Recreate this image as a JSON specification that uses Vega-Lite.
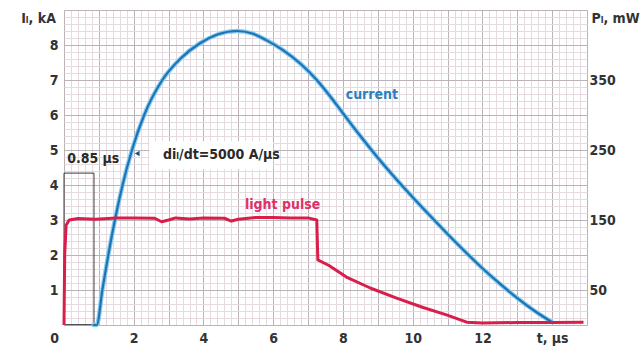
{
  "$schema": "https://vega.github.io/schema/vega-lite/v6.json",
  "width": 523,
  "height": 315,
  "autosize": {"type": "none"},
  "padding": {"left": 64, "top": 10, "right": 55, "bottom": 24},
  "background": "white",
  "config": {
    "view": {"stroke": null},
    "font": "Liberation Sans Narrow, DejaVu Sans Condensed, sans-serif",
    "axis": {"labelFontWeight": "bold", "labelFontSize": 14, "labelColor": "#333333", "titleFontWeight": "bold", "titleFontSize": 14, "titleColor": "#333333", "labelFont": "Liberation Sans Narrow, DejaVu Sans Condensed, sans-serif", "titleFont": "Liberation Sans Narrow, DejaVu Sans Condensed, sans-serif"}
  },
  "datasets": {
    "curves": [
      {"t": 0.85, "v": 0, "s": "current"},
      {"t": 0.94, "v": 0, "s": "current"},
      {"t": 1.1, "v": 1, "s": "current"},
      {"t": 1.27, "v": 2, "s": "current"},
      {"t": 1.46, "v": 3, "s": "current"},
      {"t": 1.68, "v": 4, "s": "current"},
      {"t": 1.95, "v": 5, "s": "current"},
      {"t": 2.3, "v": 6, "s": "current"},
      {"t": 2.82, "v": 7, "s": "current"},
      {"t": 3.35, "v": 7.62, "s": "current"},
      {"t": 3.9, "v": 8.05, "s": "current"},
      {"t": 4.4, "v": 8.3, "s": "current"},
      {"t": 4.96, "v": 8.4, "s": "current"},
      {"t": 5.4, "v": 8.33, "s": "current"},
      {"t": 5.8, "v": 8.14, "s": "current"},
      {"t": 6.27, "v": 7.86, "s": "current"},
      {"t": 6.8, "v": 7.45, "s": "current"},
      {"t": 7.25, "v": 7.0, "s": "current"},
      {"t": 7.62, "v": 6.55, "s": "current"},
      {"t": 8.0, "v": 6.05, "s": "current"},
      {"t": 8.5, "v": 5.4, "s": "current"},
      {"t": 9.0, "v": 4.78, "s": "current"},
      {"t": 9.5, "v": 4.2, "s": "current"},
      {"t": 10.0, "v": 3.65, "s": "current"},
      {"t": 10.5, "v": 3.12, "s": "current"},
      {"t": 11.0, "v": 2.6, "s": "current"},
      {"t": 11.5, "v": 2.1, "s": "current"},
      {"t": 12.0, "v": 1.62, "s": "current"},
      {"t": 12.5, "v": 1.18, "s": "current"},
      {"t": 13.0, "v": 0.77, "s": "current"},
      {"t": 13.5, "v": 0.4, "s": "current"},
      {"t": 14.0, "v": 0.08, "s": "current"},
      {"t": 0, "v": 0, "s": "light"},
      {"t": 0.02, "v": 2.0, "s": "light"},
      {"t": 0.06, "v": 2.85, "s": "light"},
      {"t": 0.15, "v": 3.0, "s": "light"},
      {"t": 0.4, "v": 3.04, "s": "light"},
      {"t": 0.9, "v": 3.02, "s": "light"},
      {"t": 1.5, "v": 3.06, "s": "light"},
      {"t": 2.0, "v": 3.06, "s": "light"},
      {"t": 2.6, "v": 3.05, "s": "light"},
      {"t": 2.8, "v": 2.95, "s": "light"},
      {"t": 3.0, "v": 3.0, "s": "light"},
      {"t": 3.2, "v": 3.06, "s": "light"},
      {"t": 3.6, "v": 3.03, "s": "light"},
      {"t": 4.0, "v": 3.06, "s": "light"},
      {"t": 4.6, "v": 3.05, "s": "light"},
      {"t": 4.8, "v": 2.97, "s": "light"},
      {"t": 5.0, "v": 3.02, "s": "light"},
      {"t": 5.5, "v": 3.07, "s": "light"},
      {"t": 6.0, "v": 3.07, "s": "light"},
      {"t": 6.5, "v": 3.06, "s": "light"},
      {"t": 7.0, "v": 3.06, "s": "light"},
      {"t": 7.25, "v": 3.0, "s": "light"},
      {"t": 7.28, "v": 1.86, "s": "light"},
      {"t": 7.6, "v": 1.7, "s": "light"},
      {"t": 8.1, "v": 1.37, "s": "light"},
      {"t": 8.8, "v": 1.05, "s": "light"},
      {"t": 9.54, "v": 0.77, "s": "light"},
      {"t": 10.3, "v": 0.5, "s": "light"},
      {"t": 10.97, "v": 0.29, "s": "light"},
      {"t": 11.55, "v": 0.08, "s": "light"},
      {"t": 12.0, "v": 0.06, "s": "light"},
      {"t": 13.0, "v": 0.07, "s": "light"},
      {"t": 14.0, "v": 0.07, "s": "light"},
      {"t": 14.9, "v": 0.08, "s": "light"}
    ],
    "rules": [
      {"t": 0, "v": 0, "v2": 4.34},
      {"t": 0.86, "v": 0, "v2": 4.34}
    ],
    "hrule": [
      {"t": 0, "t2": 0.86, "v": 4.34},
      {"t": 0, "t2": 0.86, "v": 0.01}
    ],
    "box": [
      {"t": 2.45, "t2": 6.0, "v": 4.45, "v2": 5.25}
    ],
    "arrow": [
      {"t": 2.1, "v": 4.9}
    ],
    "lblCurrent": [{"t": 8.83, "v": 6.57, "text": "current"}],
    "lblLight": [{"t": 6.27, "v": 3.43, "text": "light pulse"}],
    "lblDark": [
      {"t": 2.84, "v": 4.86, "text": "diₗ/dt=5000 A/µs"},
      {"t": 0.09, "v": 4.74, "text": "0.85 µs"}
    ]
  },
  "resolve": {"scale": {"x": "shared", "y": "shared"}, "axis": {"x": "independent", "y": "independent"}},
  "layer": [
    {
      "data": {"name": "box"},
      "mark": {"type": "rect", "color": "white"},
      "encoding": {
        "x": {"field": "t", "type": "quantitative", "scale": {"domain": [0, 15], "nice": false, "zero": false},
          "axis": {
            "orient": "bottom",
            "values": [0,0.2,0.4,0.6,0.8,1,1.2,1.4,1.6,1.8,2,2.2,2.4,2.6,2.8,3,3.2,3.4,3.6,3.8,4,4.2,4.4,4.6,4.8,5,5.2,5.4,5.6,5.8,6,6.2,6.4,6.6,6.8,7,7.2,7.4,7.6,7.8,8,8.2,8.4,8.6,8.8,9,9.2,9.4,9.6,9.8,10,10.2,10.4,10.6,10.8,11,11.2,11.4,11.6,11.8,12,12.2,12.4,12.6,12.8,13,13.2,13.4,13.6,13.8,14,14.2,14.4,14.6,14.8,15],
            "grid": true,
            "gridColor": {"condition": {"test": "abs(datum.value - round(datum.value)) < 0.01", "value": "#bbb2b8"}, "value": "#e4dae0"},
            "gridWidth": 1,
            "ticks": false,
            "domain": false,
            "labelOverlap": false,
            "labelFlush": false,
            "labelBound": false,
            "labelPadding": 6,
            "labelOffset": {"condition": {"test": "datum.value == 0", "value": -10}, "value": 0},
            "labelExpr": "datum.value == 14 ? 't, µs' : ((datum.value % 2 == 0 && datum.value <= 12) ? format(datum.value, 'd') : '')",
            "title": null
          }
        },
        "x2": {"field": "t2"},
        "y": {"field": "v", "type": "quantitative", "scale": {"domain": [0, 9], "nice": false, "zero": false},
          "axis": {
            "orient": "left",
            "values": [0,0.2,0.4,0.6,0.8,1,1.2,1.4,1.6,1.8,2,2.2,2.4,2.6,2.8,3,3.2,3.4,3.6,3.8,4,4.2,4.4,4.6,4.8,5,5.2,5.4,5.6,5.8,6,6.2,6.4,6.6,6.8,7,7.2,7.4,7.6,7.8,8,8.2,8.4,8.6,8.8,9],
            "grid": true,
            "gridColor": {"condition": {"test": "abs(datum.value - round(datum.value)) < 0.01", "value": "#bbb2b8"}, "value": "#e4dae0"},
            "gridWidth": 1,
            "ticks": false,
            "domain": false,
            "labelOverlap": false,
            "labelFlush": false,
            "labelBound": false,
            "labelPadding": 6,
            "labelExpr": "(datum.value >= 1 && datum.value <= 8 && datum.value % 1 == 0) ? format(datum.value, 'd') : ''",
            "title": "Iₗ, kA",
            "titleAngle": 0,
            "titleAlign": "center",
            "titleBaseline": "middle",
            "titleX": -26,
            "titleY": 8
          }
        },
        "y2": {"field": "v2"}
      }
    },
    {
      "data": {"name": "rules"},
      "mark": {"type": "rule", "color": "#3a3a3a", "strokeWidth": 1},
      "encoding": {
        "x": {"field": "t", "type": "quantitative", "axis": null},
        "y": {"field": "v", "type": "quantitative",
          "axis": {
            "orient": "right",
            "values": [1, 3, 5, 7],
            "labelExpr": "format(datum.value * 50, 'd')",
            "grid": false,
            "ticks": false,
            "domain": false,
            "labelAlign": "left",
            "labelPadding": 2,
            "labelBound": false,
            "labelFlush": false,
            "title": "Pₗ, mW",
            "titleAngle": 0,
            "titleAlign": "center",
            "titleBaseline": "middle",
            "titleX": 28,
            "titleY": 8
          }
        },
        "y2": {"field": "v2"}
      }
    },
    {
      "data": {"name": "hrule"},
      "mark": {"type": "rule", "color": "#3a3a3a", "strokeWidth": 1},
      "encoding": {
        "x": {"field": "t", "type": "quantitative", "axis": null},
        "x2": {"field": "t2"},
        "y": {"field": "v", "type": "quantitative", "axis": null}
      }
    },
    {
      "data": {"name": "curves"},
      "transform": [{"filter": "datum.s == 'current'"}],
      "mark": {"type": "line", "color": "#86cbee", "strokeWidth": 4.5, "strokeJoin": "round", "strokeCap": "round", "interpolate": "monotone"},
      "encoding": {
        "x": {"field": "t", "type": "quantitative", "axis": null},
        "y": {"field": "v", "type": "quantitative", "axis": null}
      }
    },
    {
      "data": {"name": "curves"},
      "transform": [{"filter": "datum.s == 'current'"}],
      "mark": {"type": "line", "color": "#1f73b4", "strokeWidth": 2.2, "strokeJoin": "round", "strokeCap": "round", "interpolate": "monotone"},
      "encoding": {
        "x": {"field": "t", "type": "quantitative", "axis": null},
        "y": {"field": "v", "type": "quantitative", "axis": null}
      }
    },
    {
      "data": {"name": "curves"},
      "transform": [{"filter": "datum.s == 'light'"}],
      "mark": {"type": "line", "color": "#d91e4b", "strokeWidth": 3, "strokeJoin": "round"},
      "encoding": {
        "x": {"field": "t", "type": "quantitative", "axis": null},
        "y": {"field": "v", "type": "quantitative", "axis": null}
      }
    },
    {
      "data": {"name": "arrow"},
      "mark": {"type": "point", "shape": "triangle-left", "filled": true, "color": "#1d4f7c", "size": 30, "opacity": 1},
      "encoding": {
        "x": {"field": "t", "type": "quantitative", "axis": null},
        "y": {"field": "v", "type": "quantitative", "axis": null}
      }
    },
    {
      "data": {"name": "lblCurrent"},
      "mark": {"type": "text", "color": "#2a7fc0", "fontSize": 14, "fontWeight": "bold", "align": "center", "baseline": "middle"},
      "encoding": {
        "x": {"field": "t", "type": "quantitative", "axis": null},
        "y": {"field": "v", "type": "quantitative", "axis": null},
        "text": {"field": "text"}
      }
    },
    {
      "data": {"name": "lblLight"},
      "mark": {"type": "text", "color": "#e0306a", "fontSize": 14, "fontWeight": "bold", "align": "center", "baseline": "middle"},
      "encoding": {
        "x": {"field": "t", "type": "quantitative", "axis": null},
        "y": {"field": "v", "type": "quantitative", "axis": null},
        "text": {"field": "text"}
      }
    },
    {
      "data": {"name": "lblDark"},
      "mark": {"type": "text", "color": "#2a2a2a", "fontSize": 14, "fontWeight": "bold", "align": "left", "baseline": "middle"},
      "encoding": {
        "x": {"field": "t", "type": "quantitative", "axis": null},
        "y": {"field": "v", "type": "quantitative", "axis": null},
        "text": {"field": "text"}
      }
    }
  ]
}
